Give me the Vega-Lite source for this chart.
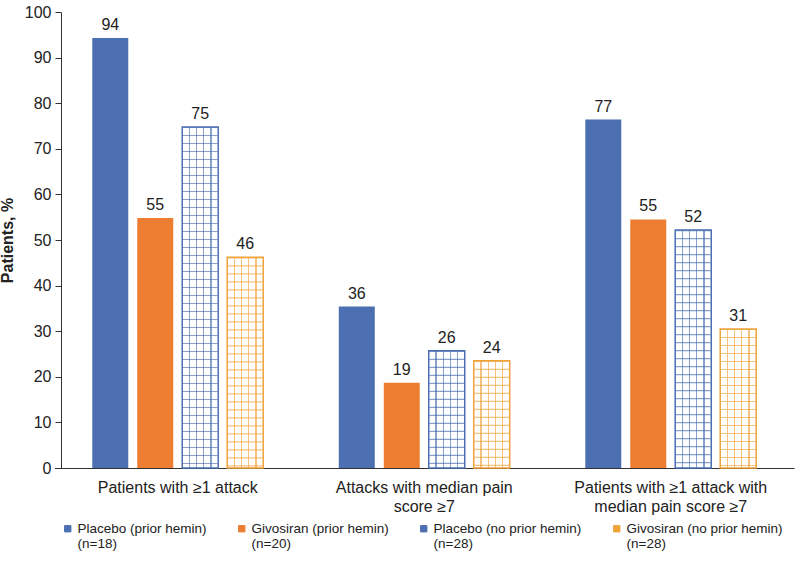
{
  "$schema": "https://vega.github.io/schema/vega-lite/v6.json",
  "autosize": {"type": "none"},
  "padding": {"left": 61, "top": 12, "right": 0, "bottom": 94},
  "width": 739,
  "height": 456,
  "background": "white",
  "data": {
    "values": [
      {"measure": "Patients with ≥1 attack", "group": "Placebo (prior hemin)", "pct": 94.3, "label": "94"},
      {"measure": "Patients with ≥1 attack", "group": "Givosiran (prior hemin)", "pct": 54.8, "label": "55"},
      {"measure": "Patients with ≥1 attack", "group": "Placebo (no prior hemin)", "pct": 74.8, "label": "75"},
      {"measure": "Patients with ≥1 attack", "group": "Givosiran (no prior hemin)", "pct": 46.2, "label": "46"},
      {"measure": "Attacks with median pain score ≥7", "group": "Placebo (prior hemin)", "pct": 35.4, "label": "36"},
      {"measure": "Attacks with median pain score ≥7", "group": "Givosiran (prior hemin)", "pct": 18.7, "label": "19"},
      {"measure": "Attacks with median pain score ≥7", "group": "Placebo (no prior hemin)", "pct": 25.7, "label": "26"},
      {"measure": "Attacks with median pain score ≥7", "group": "Givosiran (no prior hemin)", "pct": 23.5, "label": "24"},
      {"measure": "Patients with ≥1 attack with median pain score ≥7", "group": "Placebo (prior hemin)", "pct": 76.4, "label": "77"},
      {"measure": "Patients with ≥1 attack with median pain score ≥7", "group": "Givosiran (prior hemin)", "pct": 54.5, "label": "55"},
      {"measure": "Patients with ≥1 attack with median pain score ≥7", "group": "Placebo (no prior hemin)", "pct": 52.2, "label": "52"},
      {"measure": "Patients with ≥1 attack with median pain score ≥7", "group": "Givosiran (no prior hemin)", "pct": 30.5, "label": "31"}
    ]
  },
  "encoding": {
    "x": {
      "field": "measure",
      "type": "nominal",
      "sort": ["Patients with ≥1 attack", "Attacks with median pain score ≥7", "Patients with ≥1 attack with median pain score ≥7"],
      "scale": {"range": [-6.5, 733], "paddingInner": 0, "paddingOuter": 0},
      "axis": {
        "title": null,
        "labelAngle": 0,
        "ticks": false,
        "labelPadding": 11,
        "labelFontSize": 16,
        "labelLineHeight": 19,
        "labelLimit": 400,
        "labelExpr": "datum.value == 'Attacks with median pain score ≥7' ? ['Attacks with median pain', 'score ≥7'] : datum.value == 'Patients with ≥1 attack with median pain score ≥7' ? ['Patients with ≥1 attack with', 'median pain score ≥7'] : datum.value"
      }
    },
    "xOffset": {
      "field": "group",
      "type": "nominal",
      "sort": ["Placebo (prior hemin)", "Givosiran (prior hemin)", "Placebo (no prior hemin)", "Givosiran (no prior hemin)"],
      "scale": {"paddingInner": 0.2, "paddingOuter": 0.84}
    },
    "y": {
      "field": "pct",
      "type": "quantitative",
      "scale": {"domain": [0, 100], "nice": false},
      "axis": {
        "title": "Patients, %",
        "titleFontSize": 16,
        "titleFontWeight": "bold",
        "titlePadding": 9,
        "values": [0, 10, 20, 30, 40, 50, 60, 70, 80, 90, 100],
        "grid": false,
        "tickSize": 6,
        "labelPadding": 4,
        "labelFontSize": 16
      }
    }
  },
  "layer": [
    {
      "transform": [{"filter": "indexof(datum.group, 'no prior') < 0"}],
      "mark": {"type": "bar"},
      "encoding": {
        "color": {
          "field": "group",
          "type": "nominal",
          "scale": {
            "domain": ["Placebo (prior hemin)", "Givosiran (prior hemin)", "Placebo (no prior hemin)", "Givosiran (no prior hemin)"],
            "range": ["#4b6fb1", "#ed7d31", "#4b6fb1", "#efa23a"]
          },
          "legend": {
            "title": null,
            "orient": "none",
            "legendX": 0,
            "legendY": 510,
            "direction": "horizontal",
            "columns": 4,
            "gridAlign": "none",
            "columnPadding": 28,
            "symbolType": "square",
            "symbolSize": 40,
            "labelFontSize": 13.5,
            "labelLineHeight": 17,
            "labelLimit": 250,
            "labelOffset": 3,
            "labelExpr": "datum.value == 'Placebo (prior hemin)' ? [datum.value, '(n=18)'] : datum.value == 'Givosiran (prior hemin)' ? [datum.value, '(n=20)'] : [datum.value, '(n=28)']",
            "encode": {
              "symbols": {
                "update": {
                  "fill": {"signal": "datum.value == 'Placebo (no prior hemin)' ? '#a9badb' : datum.value == 'Givosiran (no prior hemin)' ? '#f7cf96' : scale('color', datum.value)"},
                  "stroke": {"signal": "scale('color', datum.value)"},
                  "strokeWidth": {"value": 1}
                }
              }
            }
          }
        }
      }
    },
    {
      "transform": [{"filter": "indexof(datum.group, 'no prior') >= 0"}],
      "mark": {"type": "rule", "strokeWidth": 35, "strokeDash": [1.2, 6.8], "strokeCap": "butt", "strokeOpacity": 0.65},
      "encoding": {
        "y2": {"datum": 0},
        "stroke": {
          "condition": {"test": "datum.group == 'Placebo (no prior hemin)'", "value": "#4b6fb1"},
          "value": "#efa23a"
        }
      }
    },
    {
      "transform": [{"filter": "datum.group == 'Placebo (no prior hemin)'"}],
      "mark": {
        "type": "bar",
        "stroke": "#4b6fb1",
        "strokeWidth": 1.5,
        "fill": {
          "gradient": "linear", "x1": 0, "y1": 0, "x2": 1, "y2": 0,
          "stops": [
            {"offset": 0, "color": "rgba(255,255,255,0)"},
            {"offset": 0.183, "color": "rgba(255,255,255,0)"},
            {"offset": 0.183, "color": "rgba(75,111,177,0.65)"},
            {"offset": 0.217, "color": "rgba(75,111,177,0.65)"},
            {"offset": 0.217, "color": "rgba(255,255,255,0)"},
            {"offset": 0.383, "color": "rgba(255,255,255,0)"},
            {"offset": 0.383, "color": "rgba(75,111,177,0.65)"},
            {"offset": 0.417, "color": "rgba(75,111,177,0.65)"},
            {"offset": 0.417, "color": "rgba(255,255,255,0)"},
            {"offset": 0.583, "color": "rgba(255,255,255,0)"},
            {"offset": 0.583, "color": "rgba(75,111,177,0.65)"},
            {"offset": 0.617, "color": "rgba(75,111,177,0.65)"},
            {"offset": 0.617, "color": "rgba(255,255,255,0)"},
            {"offset": 0.783, "color": "rgba(255,255,255,0)"},
            {"offset": 0.783, "color": "rgba(75,111,177,0.65)"},
            {"offset": 0.817, "color": "rgba(75,111,177,0.65)"},
            {"offset": 0.817, "color": "rgba(255,255,255,0)"},
            {"offset": 1, "color": "rgba(255,255,255,0)"}
          ]
        }
      }
    },
    {
      "transform": [{"filter": "datum.group == 'Givosiran (no prior hemin)'"}],
      "mark": {
        "type": "bar",
        "stroke": "#efa23a",
        "strokeWidth": 1.5,
        "fill": {
          "gradient": "linear", "x1": 0, "y1": 0, "x2": 1, "y2": 0,
          "stops": [
            {"offset": 0, "color": "rgba(255,255,255,0)"},
            {"offset": 0.183, "color": "rgba(255,255,255,0)"},
            {"offset": 0.183, "color": "rgba(239,162,58,0.65)"},
            {"offset": 0.217, "color": "rgba(239,162,58,0.65)"},
            {"offset": 0.217, "color": "rgba(255,255,255,0)"},
            {"offset": 0.383, "color": "rgba(255,255,255,0)"},
            {"offset": 0.383, "color": "rgba(239,162,58,0.65)"},
            {"offset": 0.417, "color": "rgba(239,162,58,0.65)"},
            {"offset": 0.417, "color": "rgba(255,255,255,0)"},
            {"offset": 0.583, "color": "rgba(255,255,255,0)"},
            {"offset": 0.583, "color": "rgba(239,162,58,0.65)"},
            {"offset": 0.617, "color": "rgba(239,162,58,0.65)"},
            {"offset": 0.617, "color": "rgba(255,255,255,0)"},
            {"offset": 0.783, "color": "rgba(255,255,255,0)"},
            {"offset": 0.783, "color": "rgba(239,162,58,0.65)"},
            {"offset": 0.817, "color": "rgba(239,162,58,0.65)"},
            {"offset": 0.817, "color": "rgba(255,255,255,0)"},
            {"offset": 1, "color": "rgba(255,255,255,0)"}
          ]
        }
      }
    },
    {
      "mark": {"type": "text", "baseline": "bottom", "dy": -5, "fontSize": 16, "color": "#222222"},
      "encoding": {
        "text": {"field": "label", "type": "nominal"}
      }
    }
  ],
  "config": {
    "font": "Liberation Sans",
    "view": {"stroke": null},
    "axis": {
      "domainColor": "#333333",
      "tickColor": "#333333",
      "labelColor": "#222222",
      "titleColor": "#222222",
      "labelFont": "Liberation Sans",
      "titleFont": "Liberation Sans"
    },
    "legend": {
      "labelColor": "#222222",
      "labelFont": "Liberation Sans"
    }
  }
}
